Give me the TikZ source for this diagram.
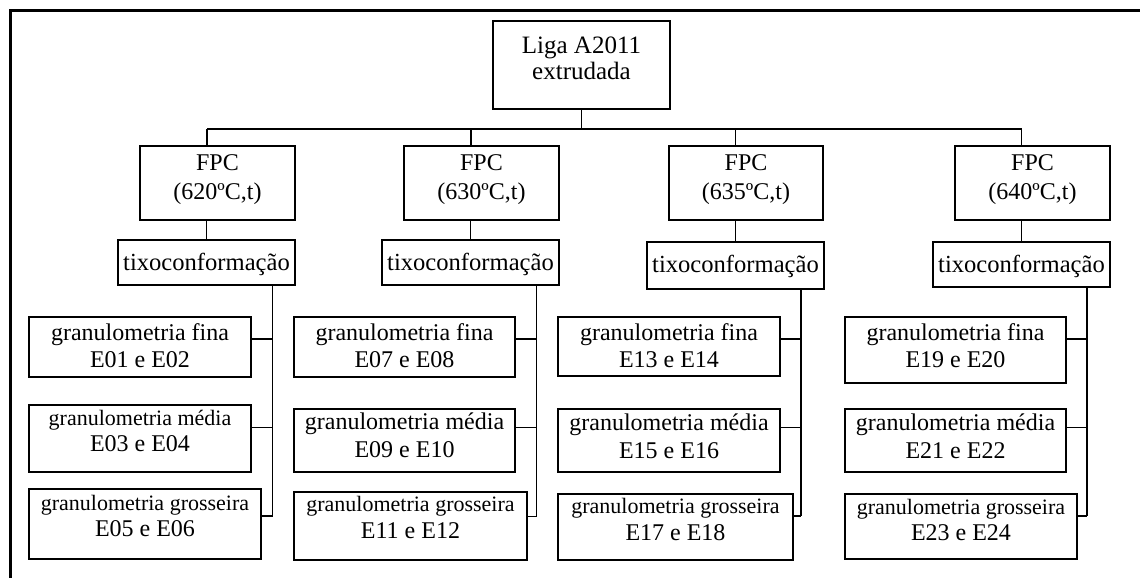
\documentclass[tikz,border=0pt]{standalone}
\usepackage{fontspec}
\setmainfont{Liberation Serif}
\usepackage{tikz}

\newcommand{\smalltxt}{\fontsize{22}{26}\selectfont}

\begin{document}
\begin{tikzpicture}[auto, x=1pt, y=1pt, line width=1.8pt]
\tikzstyle{block} = [draw, rectangle, fill=white, inner sep=0pt, align=center, font=\fontsize{24}{27.5}\selectfont]
\tikzstyle{fpc} = [block, minimum width=155pt, minimum height=74pt, text height=53pt, text depth=21pt, font=\fontsize{24}{29}\selectfont]
\tikzstyle{tixo} = [block, minimum width=177pt, minimum height=45pt, text height=30pt, text depth=15pt, font=\fontsize{24.6}{27.5}\selectfont]
\tikzstyle{grain} = [block, font=\fontsize{24}{26.5}\selectfont]

\useasboundingbox (0,0) rectangle (1140,-578);
\fill [white] (0,0) rectangle (1140,-578);
\draw [line width=3pt] (10.5,-578) -- (10.5,-10.5) -- (1140,-10.5);

\node [block, minimum width=177pt, minimum height=88pt, text height=59pt, text depth=29pt, font=\fontsize{25}{27}\selectfont] (liga) at (581.5,-65) {Liga A2011\\extrudada};

\node [fpc] (fpc1) at (217.5,-183) {FPC\\(620ºC,t)};
\node [fpc] (fpc2) at (481.5,-183) {FPC\\(630ºC,t)};
\node [fpc, minimum width=154pt] (fpc3) at (746,-183) {FPC\\(635ºC,t)};
\node [fpc] (fpc4) at (1032.5,-183) {FPC\\(640ºC,t)};

\node [tixo] (tixo1) at (206.5,-262.5) {tixoconformação};
\node [tixo] (tixo2) at (470.5,-262.5) {tixoconformação};
\node [tixo, minimum height=47pt, text depth=17pt] (tixo3) at (735.5,-265.5) {tixoconformação};
\node [tixo] (tixo4) at (1021.5,-264.5) {tixoconformação};

\node [block, minimum width=222pt, minimum height=60pt, text height=50.7pt, text depth=9.3pt] (fina1) at (140,-347) {granulometria fina\\E01 e E02};
\node [grain, minimum width=222pt, minimum height=67pt, text height=46.7pt, text depth=20.3pt] (media1) at (140,-438.5) {{\smalltxt granulometria média}\\E03 e E04};
\node [grain, minimum width=232pt, minimum height=70pt, text height=47.7pt, text depth=22.3pt] (grossa1) at (145,-524) {{\smalltxt granulometria grosseira}\\E05 e E06};

\node [block, minimum width=221pt, minimum height=60pt, text height=50.7pt, text depth=9.3pt] (fina2) at (404.5,-347) {granulometria fina\\E07 e E08};
\node [block, minimum width=221pt, minimum height=63pt, text height=48pt, text depth=15pt] (media2) at (404.5,-440.5) {granulometria média\\E09 e E10};
\node [grain, minimum width=233pt, minimum height=68pt, text height=46.3pt, text depth=21.7pt] (grossa2) at (410.5,-526) {{\smalltxt granulometria grosseira}\\E11 e E12};

\node [block, minimum width=222pt, minimum height=59pt, text height=50.7pt, text depth=8.3pt] (fina3) at (669,-346.5) {granulometria fina\\E13 e E14};
\node [block, minimum width=222pt, minimum height=63pt, text height=49.3pt, text depth=13.7pt] (media3) at (669,-440.5) {granulometria média\\E15 e E16};
\node [grain, minimum width=235pt, minimum height=66pt, text height=46pt, text depth=20pt] (grossa3) at (675.5,-527) {{\smalltxt granulometria grosseira}\\E17 e E18};

\node [block, minimum width=221pt, minimum height=66pt, text height=50.7pt, text depth=15.3pt] (fina4) at (955.5,-350) {granulometria fina\\E19 e E20};
\node [block, minimum width=221pt, minimum height=63pt, text height=49.3pt, text depth=13.7pt] (media4) at (955.5,-440.5) {granulometria média\\E21 e E22};
\node [grain, minimum width=232pt, minimum height=65pt, text height=46.7pt, text depth=18.3pt] (grossa4) at (961,-526.5) {{\smalltxt granulometria grosseira}\\E23 e E24};

% bus under the root
\node [coordinate] (bus1) at (207,-129) {};
\node [coordinate] (bus2) at (471,-129) {};
\node [coordinate] (bus3) at (735.5,-129) {};
\node [coordinate] (bus4) at (1021.5,-129) {};

% joints on the vertical lines
\node [coordinate] (f1) at (272.5,-339) {};
\node [coordinate] (m1) at (272.5,-427.5) {};
\node [coordinate] (g1) at (272.5,-516) {};
\node [coordinate] (f2) at (536.5,-339) {};
\node [coordinate] (m2) at (536.5,-427.5) {};
\node [coordinate] (g2) at (536.5,-516.5) {};
\node [coordinate] (f3) at (801,-339) {};
\node [coordinate] (m3) at (801,-427.5) {};
\node [coordinate] (g3) at (801,-516) {};
\node [coordinate] (f4) at (1087,-339) {};
\node [coordinate] (m4) at (1087,-427.5) {};
\node [coordinate] (g4) at (1087,-516) {};

\draw [-] (liga.south) -- (liga.south |- bus1);
\draw [-] (bus1) -- (bus4);
\draw [-] (bus1) -- (bus1 |- fpc1.north);
\draw [-] (bus2) -- (bus2 |- fpc2.north);
\draw [-] (bus3) -- (bus3 |- fpc3.north);
\draw [-] (bus4) -- (bus4 |- fpc4.north);

\draw [-] (fpc1.south -| tixo1.north) -- (tixo1.north);
\draw [-] (fpc2.south -| tixo2.north) -- (tixo2.north);
\draw [-] (fpc3.south -| tixo3.north) -- (tixo3.north);
\draw [-] (fpc4.south -| tixo4.north) -- (tixo4.north);

\draw [-] (tixo1.south -| g1) -- (g1);
\draw [-] (tixo2.south -| g2) -- (g2);
\draw [-] (tixo3.south -| g3) -- (g3);
\draw [-] (tixo4.south -| g4) -- (g4);

\draw [-] (fina1.east |- f1) -- (f1);
\draw [-] (media1.east |- m1) -- (m1);
\draw [-] (grossa1.east |- g1) -- (g1);
\draw [-] (fina2.east |- f2) -- (f2);
\draw [-] (media2.east |- m2) -- (m2);
\draw [-] (grossa2.east |- g2) -- (g2);
\draw [-] (fina3.east |- f3) -- (f3);
\draw [-] (media3.east |- m3) -- (m3);
\draw [-] (grossa3.east |- g3) -- (g3);
\draw [-] (fina4.east |- f4) -- (f4);
\draw [-] (media4.east |- m4) -- (m4);
\draw [-] (grossa4.east |- g4) -- (g4);
\end{tikzpicture}
\end{document}
